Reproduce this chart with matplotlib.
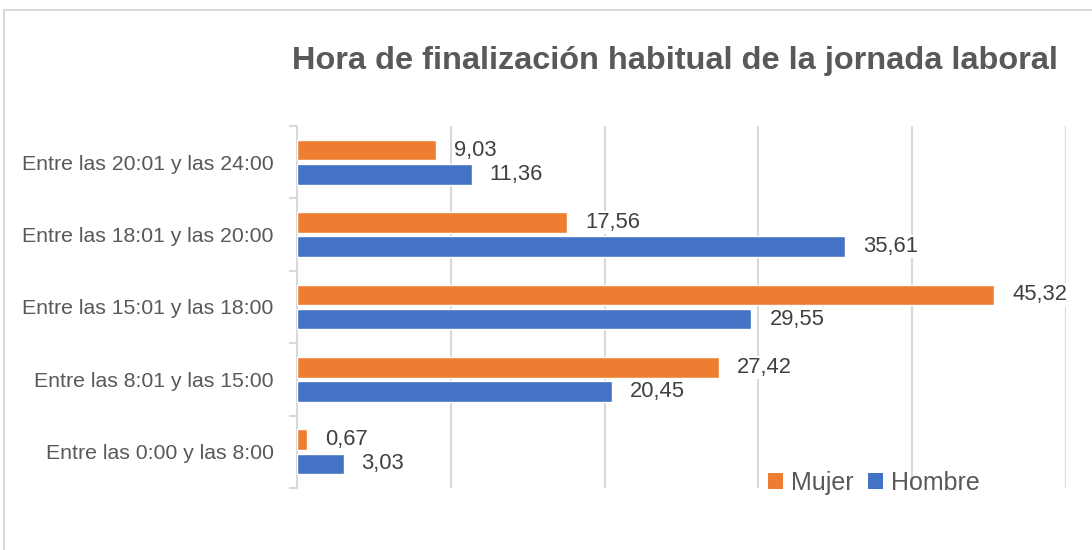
import matplotlib
matplotlib.use("Agg")
import matplotlib.pyplot as plt
from matplotlib.patches import Patch, Rectangle
import numpy as np

categories = ["Entre las 0:00 y las 8:00", "Entre las 8:01 y las 15:00",
              "Entre las 15:01 y las 18:00", "Entre las 18:01 y las 20:00",
              "Entre las 20:01 y las 24:00"]
mujer = [0.67, 27.42, 45.32, 17.56, 9.03]
hombre = [3.03, 20.45, 29.55, 35.61, 11.36]
title = "Hora de finalización habitual de la jornada laboral"

ORANGE = "#ED7D31"
BLUE = "#4472C4"
GRID = "#D9D9D9"
TXT = "#595959"

plt.rcParams['font.family'] = ['Liberation Sans', 'DejaVu Sans']

fig = plt.figure(figsize=(10.92, 5.5), dpi=100)
ax = fig.add_axes([297/1092, 1-488/550, (1066-297)/1092, (488-126)/550])

y = np.arange(len(categories))
h = 0.285
off = 0.166
bm = ax.barh(y + off, mujer, height=h, color=ORANGE, edgecolor="white", linewidth=1, zorder=3, label="Mujer")
bh = ax.barh(y - off, hombre, height=h, color=BLUE, edgecolor="white", linewidth=1, zorder=3, label="Hombre")

for bars, vals in ((bm, mujer), (bh, hombre)):
    for b, v in zip(bars, vals):
        ax.annotate(f"{v:.2f}".replace(".", ","), (b.get_width(), b.get_y() + b.get_height()/2),
                    xytext=(18, 0), textcoords="offset pixels", ha="left", va="center",
                    fontsize=15.8, color="#404040", zorder=4,
                    bbox=dict(boxstyle="square,pad=0.05", fc="white", ec="none"))

ax.set_xlim(0, 50)
ax.set_ylim(-0.5, len(categories) - 0.5)
ax.set_xticks([10, 20, 30, 40, 50])
ax.set_xticklabels([])
ax.tick_params(axis="x", length=0)
ax.grid(axis="x", color=GRID, linewidth=1.5, zorder=0)
ax.set_axisbelow(True)

ax.set_yticks(y)
ax.set_yticklabels(categories, fontsize=15.3, color=TXT)
ax.tick_params(axis="y", which="major", length=0, pad=17)
ax.set_yticks(np.arange(-0.5, len(categories)), minor=True)
ax.tick_params(axis="y", which="minor", length=6, width=1.5, color=GRID, direction="out")

for s in ("top", "right", "bottom"):
    ax.spines[s].set_visible(False)
ax.spines["left"].set_color(GRID)
ax.spines["left"].set_linewidth(1.5)

fig.text(675/1092, 1-69/550, title, ha="center", va="baseline",
         fontsize=23.4, fontweight="bold", color=TXT)

handles = [Patch(facecolor=ORANGE, label="Mujer"), Patch(facecolor=BLUE, label="Hombre")]
fig.legend(handles=handles, loc="center", bbox_to_anchor=(874/1092, 1-483/550), ncol=2,
           frameon=False, fontsize=18, handlelength=0.6, handleheight=0.6,
           handletextpad=0.3, columnspacing=0.6, labelcolor=TXT)

fig.patches.append(Rectangle((3.5/1092, -0.1), 1.2, 1.1 - 10/550 + 0.0, transform=fig.transFigure,
                             fill=False, edgecolor=GRID, linewidth=1.5))

fig.savefig("out.png", dpi=100)
